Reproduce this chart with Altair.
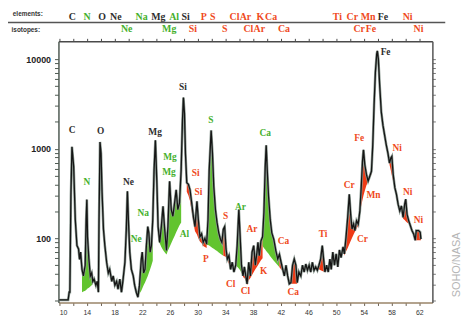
import altair as alt
import pandas as pd

# ---------------- data ----------------
spec_x = [10.0, 10.5, 11.0, 11.3, 11.45, 11.55, 11.7, 11.85, 12.1, 12.33, 12.57, 12.8, 12.95, 13.1,
          13.3, 13.5, 13.76, 13.9, 14.0, 14.1, 14.3, 14.5, 14.7, 14.86, 15.05, 15.3, 15.5, 15.67,
          15.76, 15.9, 16.05, 16.2, 16.4, 16.6, 16.86, 17.1, 17.3, 17.6, 17.8, 18.05, 18.3, 18.5,
          18.76, 19.0, 19.2, 19.5, 19.7, 19.86, 20.0, 20.2, 20.43, 20.7, 20.9, 21.14, 21.38, 21.6,
          21.86, 22.0, 22.2, 22.4, 22.6, 22.8, 22.95, 23.14, 23.33, 23.52, 23.71, 23.9, 24.1, 24.29,
          24.52, 24.76, 25.0, 25.24, 25.5, 25.71, 25.95, 26.19, 26.43, 26.67, 26.9, 27.14, 27.38,
          27.62, 27.81, 27.95, 28.1, 28.24, 28.43, 28.67, 28.9, 29.14, 29.38, 29.62, 29.9, 30.1,
          30.33, 30.57, 30.8, 31.05, 31.3, 31.5, 31.67, 31.95, 32.14, 32.33, 32.57, 32.8, 33.05,
          33.3, 33.5, 33.71, 33.9, 34.1, 34.29, 34.52, 34.76, 35.0, 35.24, 35.5, 35.71, 35.95,
          36.14, 36.33, 36.55, 36.75, 36.95, 37.14, 37.38, 37.62, 37.86, 38.1, 38.33, 38.57, 38.71,
          38.9, 39.14, 39.38, 39.57, 39.76, 39.9, 40.05, 40.24, 40.48, 40.71, 41.0, 41.29, 41.57,
          41.81, 42.05, 42.29, 42.52, 42.76, 43.0, 43.24, 43.48, 43.71, 43.95, 44.19, 44.38, 44.62,
          44.9, 45.14, 45.38, 45.62, 45.86, 46.1, 46.33, 46.57, 46.81, 47.05, 47.29, 47.52, 47.76,
          48.0, 48.19, 48.38, 48.62, 48.86, 49.1, 49.29, 49.52, 49.76, 50.0, 50.24, 50.48, 50.71,
          51.0, 51.19, 51.43, 51.67, 51.9, 52.1, 52.29, 52.52, 52.71, 52.95, 53.19, 53.43, 53.62,
          53.81, 53.95, 54.14, 54.38, 54.62, 54.86, 55.1, 55.29, 55.48, 55.67, 55.86, 55.95, 56.1,
          56.29, 56.52, 56.76, 57.0, 57.24, 57.48, 57.71, 57.9, 58.05, 58.24, 58.48, 58.71, 58.95,
          59.19, 59.43, 59.67, 59.9, 60.05, 60.24, 60.48, 60.71, 60.95, 61.19, 61.43, 61.57, 61.9,
          62.14, 62.24]
spec_y = [20.5, 20.5, 20.5, 20.5, 25, 25, 300, 1050, 630, 162, 83, 76, 58, 70,
          45, 38, 50, 162, 270, 104, 58, 38, 41, 33, 35, 30, 33, 25,
          162, 1190, 890, 322, 126, 83, 54, 41, 45, 33, 38, 30, 33, 27,
          35, 25, 33, 54, 126, 335, 162, 70, 45, 38, 30, 25, 22, 30,
          58, 70, 41, 45, 83, 135, 115, 70, 83, 162, 578, 1240, 447, 135,
          90, 135, 227, 126, 73, 135, 432, 209, 176, 248, 347, 209, 248,
          578, 2065, 3730, 2470, 890, 418, 400, 347, 248, 176, 135, 258, 162,
          104, 112, 90, 100, 86, 162, 578, 1600, 890, 380, 209, 150, 115,
          97, 90, 126, 135, 76, 58.6, 64, 45, 54, 42, 50, 83, 209,
          104, 50, 38, 48, 38, 31, 54, 38, 70, 83, 50, 70, 90,
          64, 93, 104, 193, 630, 1090, 578, 295, 162, 115, 97, 73, 58.6,
          66, 54, 45, 38, 50, 38, 31, 32, 50, 58.6, 50, 32, 42,
          38, 50, 42, 51.6, 44, 50, 42, 54, 44, 48, 44, 50, 58.6,
          83, 58.6, 42, 50, 42, 58.6, 45, 70, 50, 67, 48, 74, 61,
          80, 67, 103, 171, 310, 185, 127, 144, 122, 157, 144, 202, 367,
          723, 970, 662, 513, 436, 492, 560, 1100, 3050, 7130, 11350, 12350, 10000,
          5070, 2580, 1830, 1420, 1100, 890, 690, 785, 820, 513, 367, 310, 240,
          202, 230, 171, 240, 273, 185, 157, 139, 122, 112, 95, 122, 122,
          117, 98]

# filled peak regions: colour key, x positions (from spec_x), lower edge values
fill_regions = [
    ("g", [13.3, 13.5, 13.76, 13.9, 14.0, 14.1, 14.3, 14.5, 14.7, 14.86],
          [25, 25.5, 26, 26.5, 27, 27.5, 28, 29, 30, 31]),
    ("g", [21.38, 21.6, 21.86, 22.0, 22.2, 22.4, 22.6, 22.8, 22.95, 23.14, 23.33, 23.52],
          [22, 24, 26, 27.5, 30, 32, 35, 38, 41, 45, 50, 56]),
    ("g", [24.29, 24.52, 24.76, 25.0, 25.24, 25.5, 25.71, 25.95, 26.19, 26.43, 26.67, 26.9, 27.14, 27.38, 27.62],
          [97, 88, 80, 74, 70, 66, 73, 80, 88, 97, 106, 117, 128, 140, 150]),
    ("r", [28.43, 28.67, 28.9, 29.14, 29.38, 29.62, 29.9, 30.1, 30.33, 30.57, 30.8, 31.05, 31.3],
          [330, 300, 260, 200, 150, 120, 110, 100, 92, 88, 82, 80, 78]),
    ("g", [31.3, 31.5, 31.67, 31.95, 32.14, 32.33, 32.57, 32.8, 33.05, 33.3, 33.5, 33.71],
          [84, 84, 83, 80, 78, 76.5, 74, 72, 69.5, 67, 65.5, 64]),
    ("r", [33.71, 33.9, 34.1, 34.29], [64, 63, 62, 58.6]),
    ("r", [34.29, 34.52, 34.76], [57, 52, 45]),
    ("g", [35.5, 35.71, 35.95, 36.14, 36.33, 36.55], [50, 48, 46, 44, 41, 38]),
    ("r", [36.55, 36.75, 36.95, 37.14, 37.38, 37.62, 37.86, 38.1, 38.33, 38.57, 38.71, 38.9, 39.14, 39.38],
          [37, 36, 34, 30, 34, 36, 39, 42, 45, 48, 50, 53, 57, 60]),
    ("g", [39.38, 39.57, 39.76, 39.9, 40.05, 40.24, 40.48, 40.71, 41.0, 41.29, 41.57, 41.81],
          [82, 78, 75, 72, 70, 67, 63, 60, 56, 53, 50, 47.5]),
    ("r", [41.81, 42.05, 42.29], [47.5, 45, 43]),
    ("r", [43.48, 43.71, 43.95, 44.19, 44.38], [31, 31, 31, 31, 31]),
    ("r", [47.52, 47.76, 48.0, 48.19, 48.38], [45, 44, 43, 42.5, 42]),
    ("r", [51.19, 51.43, 51.67, 51.9, 52.1, 52.29, 52.52, 52.71, 52.95, 53.19],
          [64, 71, 78, 86, 93, 101, 110, 118, 128, 139]),
    ("r", [53.43, 53.62, 53.81, 53.95, 54.14, 54.38, 54.62, 54.86, 55.1],
          [195, 230, 270, 300, 340, 390, 430, 470, 520]),
    ("r", [57.71, 57.9, 58.05, 58.24, 58.48], [660, 570, 500, 430, 360]),
    ("r", [59.67, 59.9, 60.05, 60.24, 60.48], [165, 160, 155, 150, 145]),
    ("r", [61.43, 61.57, 61.9, 62.14, 62.24], [95, 95, 95, 95, 95]),
]

peak_text = ["C", "N", "O", "Ne", "Na", "Ne", "Mg", "Mg", "Mg", "Si", "Si", "Si", "Al", "S", "S", "P",
             "Ar", "Cl", "Cl", "Ar", "K", "Ca", "Ca", "Ca", "Ti", "Cr", "Cr", "Fe", "Mn", "Fe", "Ni", "Ni", "Ni"]
peak_x = [11.86, 14.0, 16.0, 20.0, 22.14, 21.14, 23.86, 26.0, 25.86, 27.86, 29.71, 30.1, 28.1, 31.9, 34.04, 31.19,
          36.19, 34.76, 36.9, 37.86, 39.53, 39.76, 42.39, 43.81, 48.1, 51.9, 53.81, 53.33, 55.39, 57.14, 58.81, 60.33, 61.9]
peak_y = [1600, 427, 1560, 427, 189, 97.5, 1520, 805, 550, 4910, 536, 330, 111, 2065, 175, 58.6,
          226, 31, 26, 126, 43.2, 1484, 92.7, 25.3, 111, 395, 97.5, 1306, 306, 11940, 1013, 330, 158]
peak_kind = ["k", "g", "k", "k", "g", "g", "k", "g", "g", "k", "r", "r", "g", "g", "r", "r",
             "g", "r", "r", "r", "r", "g", "r", "r", "r", "r", "r", "r", "r", "k", "r", "r", "r"]

elem_text = ["C", "N", "O", "Ne", "Na", "Mg", "Al", "Si", "P", "S", "Cl", "Ar", "K", "Ca",
             "Ti", "Cr", "Mn", "Fe", "Ni"]
elem_x = [11.9, 14.04, 16.19, 18.19, 21.9, 24.33, 26.61, 28.26, 30.9, 32.19, 35.33, 36.9, 39.04, 40.61,
          50.19, 52.33, 54.61, 56.76, 60.33]
elem_kind = ["k", "g", "k", "k", "g", "k", "g", "k", "r", "r", "r", "r", "r", "r",
             "r", "r", "r", "k", "r"]

iso_text = ["Ne", "Mg", "Si", "S", "Cl", "Ar", "Ca", "Cr", "Fe", "Ni"]
iso_x = [19.76, 25.9, 29.33, 33.9, 37.33, 38.9, 42.47, 53.33, 55.04, 61.9]
iso_kind = ["g", "g", "r", "r", "r", "r", "r", "r", "r", "r"]

x_ticks = list(range(10, 63, 2))
y_ticks = [20, 30, 40, 50, 60, 70, 80, 90, 100, 200, 300, 400, 500, 600, 700, 800, 900,
           1000, 2000, 3000, 4000, 5000, 6000, 7000, 8000, 9000, 10000]

# ---------------- build tables ----------------
spec = pd.DataFrame({"x": spec_x, "y": spec_y})
lookup = dict(zip(spec_x, spec_y))
rows = []
for i, (kind, xs_, bs) in enumerate(fill_regions):
    for xv, bv in zip(xs_, bs):
        rows.append({"x": xv, "top": lookup[xv], "base": bv, "grp": i, "kind": kind})
fills = pd.DataFrame(rows)
peaks = pd.DataFrame({"x": peak_x, "y": peak_y, "t": peak_text, "kind": peak_kind})
elems = pd.DataFrame({"x": elem_x, "t": elem_text, "kind": elem_kind})
isos = pd.DataFrame({"x": iso_x, "t": iso_text, "kind": iso_kind})
one = pd.DataFrame({"a": [0]})

GREEN_FILL, RED_FILL = "#62c42f", "#ee3a16"
txt_scale = alt.Scale(domain=["k", "g", "r"], range=["#2e2e2e", "#45b02c", "#ef4a22"])
fill_scale = alt.Scale(domain=["g", "r"], range=[GREEN_FILL, RED_FILL])

xs = alt.Scale(domain=[9.9, 63.9], nice=False, zero=False)
ys = alt.Scale(type="log", domain=[19.2, 15800], nice=False)

axis_common = dict(grid=False, title=None, domainWidth=1.5, tickWidth=1)
bottom_axis = alt.Axis(orient="bottom", values=x_ticks,
                       labelExpr="(datum.value - 10) % 4 == 0 ? datum.label : ''",
                       tickSize=3, labelFontSize=7, labelColor="#333", labelFont="Liberation Sans",
                       domainColor="#9a8468", tickColor="#6a5e50", labelPadding=3, **axis_common)
top_axis = alt.Axis(orient="top", values=x_ticks, labels=False, tickSize=3,
                    domainColor="#4a4a4a", tickColor="#4a4a4a", **axis_common)
left_axis = alt.Axis(orient="left", values=y_ticks,
                     labelExpr="(datum.value == 100 || datum.value == 1000 || datum.value == 10000) ? datum.label : ''",
                     format="d", tickSize=4, labelFontSize=9, labelFontWeight="bold",
                     labelFont="Liberation Sans", labelColor="#222", labelPadding=4,
                     domainColor="#4e5a52", tickColor="#4e5a52", **axis_common)
right_axis = alt.Axis(orient="right", values=y_ticks, labels=False, tickSize=3,
                      domainColor="#555", tickColor="#777", **axis_common)

areas = alt.Chart(fills).mark_area(opacity=1, interpolate="linear").encode(
    x=alt.X("x:Q", scale=xs, axis=None),
    y=alt.Y("top:Q", scale=ys, axis=None),
    y2="base:Q",
    detail="grp:N",
    color=alt.Color("kind:N", scale=fill_scale, legend=None),
)

halo = alt.Chart(spec).mark_line(color="#8e9c94", strokeWidth=2.6).encode(
    x=alt.X("x:Q", scale=xs, axis=top_axis),
    y=alt.Y("y:Q", scale=ys, axis=right_axis),
)
line = alt.Chart(spec).mark_line(color="#151515", strokeWidth=1.3).encode(
    x=alt.X("x:Q", scale=xs, axis=bottom_axis),
    y=alt.Y("y:Q", scale=ys, axis=left_axis),
)

peak_lbl = alt.Chart(peaks).mark_text(font="Liberation Serif", fontWeight="bold", fontSize=9.5).encode(
    x=alt.X("x:Q", scale=xs, axis=None),
    y=alt.Y("y:Q", scale=ys, axis=None),
    text="t:N",
    color=alt.Color("kind:N", scale=txt_scale, legend=None),
)

elem_lbl = alt.Chart(elems).mark_text(font="Liberation Serif", fontWeight="bold", fontSize=10).encode(
    x=alt.X("x:Q", scale=xs, axis=None),
    y=alt.value(-25),
    text="t:N",
    color=alt.Color("kind:N", scale=txt_scale, legend=None),
)
iso_lbl = alt.Chart(isos).mark_text(font="Liberation Serif", fontWeight="bold", fontSize=10).encode(
    x=alt.X("x:Q", scale=xs, axis=None),
    y=alt.value(-12),
    text="t:N",
    color=alt.Color("kind:N", scale=txt_scale, legend=None),
)

sep = alt.Chart(one).mark_rule(color="#555", strokeWidth=1.6).encode(
    x=alt.value(-54), x2=alt.value(391), y=alt.value(-19))

names_top = alt.Chart(pd.DataFrame({"t": ["elements:"]})).mark_text(
    font="Liberation Sans", fontSize=6.5, fontWeight="bold", color="#333").encode(
    x=alt.value(-31), y=alt.value(-28), text="t:N")
names_bot = alt.Chart(pd.DataFrame({"t": ["isotopes:"]})).mark_text(
    font="Liberation Sans", fontSize=6.5, fontWeight="bold", color="#333").encode(
    x=alt.value(-33), y=alt.value(-11), text="t:N")

credit = alt.Chart(pd.DataFrame({"t": ["SOHO/NASA"]})).mark_text(
    font="Liberation Sans", fontSize=11, color="#b5b5b5", angle=270).encode(
    x=alt.value(403), y=alt.value(226), text="t:N")

chart = alt.layer(
    areas, halo, line, peak_lbl, elem_lbl, iso_lbl, sep, names_top, names_bot, credit
).resolve_scale(color="independent").properties(
    width=378, height=264,
    autosize=alt.AutoSizeParams(type="none"),
    padding={"left": 51, "top": 32, "right": 36, "bottom": 15},
    background="white",
).configure_view(stroke=None)

chart.save("out.html", embed_options={"renderer": "svg", "actions": False})
